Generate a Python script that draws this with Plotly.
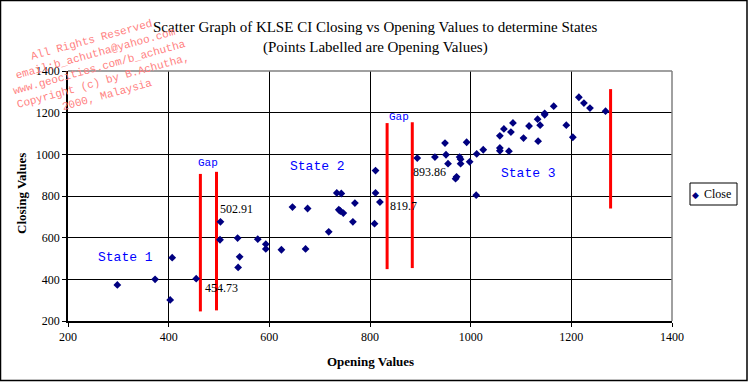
import plotly.graph_objects as go

# ---- data ----
open_vals = [298, 373, 407, 403, 454.73, 502.91, 502, 537, 541, 538, 577, 593, 593, 624, 672,
             646, 676, 718, 734, 743, 738, 741, 747, 766, 770, 809, 811, 811, 819.7,
             893.86, 929, 949, 951, 955, 978, 980, 980, 972, 970, 992, 998, 1012, 1025, 1011,
             1058, 1066, 1058, 1058, 1076, 1080, 1084, 1105, 1116, 1134, 1133, 1138, 1147, 1147,
             1165, 1190, 1203, 1215, 1225, 1237, 1268]
close_vals = [373, 400, 504, 301, 403, 676, 590, 598, 508, 457, 593, 569, 546, 542, 546,
              747, 740, 628, 815, 812, 734, 728, 718, 676, 766, 667, 922, 815, 771,
              982, 987, 1054, 998, 955, 987, 977, 955, 892, 883, 1058, 964, 1002, 1022, 804,
              1089, 1122, 1031, 1017, 1015, 1107, 1151, 1078, 1136, 1063, 1169, 1140, 1197, 1190,
              1231, 1140, 1082, 1274, 1246, 1222, 1207]

# labelled points (opening values)
label_open = [454.73, 502.91, 819.7, 893.86]
label_close = [403, 676, 771, 982]
label_text = ["454.73", "502.91", "819.7", "893.86"]

# red state-boundary lines: x, y_top, y_bottom
gap_x = [463, 495, 834, 884, 1278]
gap_top = [906, 916, 1150, 1154, 1313]
gap_bottom = [246, 251, 449, 454, 740]

# region texts
region_text = ["Gap", "Gap", "State 1", "State 2", "State 3"]
region_x = [479, 858, 314, 695, 1115]
region_y = [959, 1180, 504, 940, 906]

x_ticks = [200, 400, 600, 800, 1000, 1200, 1400]
y_ticks = [200, 400, 600, 800, 1000, 1200, 1400]

fig = go.Figure()

for gx, gt, gb in zip(gap_x, gap_top, gap_bottom):
    fig.add_trace(go.Scatter(x=[gx, gx], y=[gb, gt], mode="lines",
                             line=dict(color="#ff0000", width=3),
                             showlegend=False, hoverinfo="skip"))

fig.add_trace(go.Scatter(x=open_vals, y=close_vals, mode="markers", name="Close",
                         marker=dict(symbol="diamond", size=6, color="#000080"),
                         showlegend=False))

serif = "Liberation Serif, Times New Roman, serif"
mono = "Liberation Mono, Courier New, monospace"
C = dict(xanchor="center", yanchor="middle", showarrow=False)

ann = []
shifts = [(25, -9.5), (16, 13), (24, -4), (12.5, -13.7)]
for lx, ly, lt, (sx, sy) in zip(label_open, label_close, label_text, shifts):
    ann.append(dict(x=lx, y=ly, text=lt, xshift=sx, yshift=sy, **C,
                    font=dict(family=serif, size=12, color="black")))

for t, rx, ry in zip(region_text, region_x, region_y):
    ann.append(dict(x=rx, y=ry, text=t, **C,
                    font=dict(family=mono, size=11 if t == "Gap" else 13, color="#0000ff")))

# title
ann.append(dict(xref="paper", yref="paper", x=(375 - 68) / 604, y=(321 - 27) / 250, **C,
                text="Scatter Graph of KLSE CI Closing vs Opening Values to determine States",
                font=dict(family=serif, size=15, color="black")))
ann.append(dict(xref="paper", yref="paper", x=(375 - 68) / 604, y=(321 - 48) / 250, **C,
                text="(Points Labelled are Opening Values)",
                font=dict(family=serif, size=15, color="black")))

# axis titles
ann.append(dict(xref="paper", yref="paper", x=0.5, y=(321 - 361) / 250, **C,
                text="<b>Opening Values</b>",
                font=dict(family=serif, size=13, color="black")))
ann.append(dict(xref="paper", yref="paper", x=(21 - 68) / 604, y=(321 - 194) / 250, textangle=-90, **C,
                text="<b>Closing Values</b>",
                font=dict(family=serif, size=13, color="black")))

# legend (manual)
ann.append(dict(xref="paper", yref="paper", x=(717 - 68) / 604, y=(321 - 194) / 250, **C,
                text="Close",
                font=dict(family=serif, size=12, color="black")))
ann.append(dict(xref="paper", yref="paper", x=(695 - 68) / 604, y=(321 - 195) / 250, **C,
                text="◆",
                font=dict(family="DejaVu Sans", size=9, color="#000080")))

# watermark
ann.append(dict(xref="paper", yref="paper", x=(99 - 68) / 604, y=(321 - 67) / 250, **C,
                text="All Rights Reserved<br>email:b_achutha@yahoo.com<br>www.geocities.com/b_achutha"
                     "<br>Copyright (c) by B.Achutha,<br>2000, Malaysia",
                textangle=-15.5, align="center",
                font=dict(family=mono, size=11, color="#ff7f7f")))

shapes = [
    # plot area top/right border (gray)
    dict(type="line", xref="paper", yref="paper", x0=0, x1=1, y0=1, y1=1,
         line=dict(color="#808080", width=1.5), layer="above"),
    dict(type="line", xref="paper", yref="paper", x0=1, x1=1, y0=0, y1=1,
         line=dict(color="#808080", width=1.5), layer="above"),
    # legend box
    dict(type="rect", xref="paper", yref="paper",
         x0=(690 - 68) / 604, x1=(737 - 68) / 604, y0=(321 - 205) / 250, y1=(321 - 183) / 250,
         line=dict(color="black", width=1), fillcolor="white", layer="below"),
    # outer chart border
    dict(type="rect", xref="paper", yref="paper",
         x0=(0.5 - 68) / 604, x1=(747 - 68) / 604, y0=(321 - 380.5) / 250, y1=(321 - 0.5) / 250,
         line=dict(color="black", width=1.5), fillcolor="rgba(0,0,0,0)", layer="below"),
]

fig.update_layout(
    width=748, height=382,
    margin=dict(l=68, r=76, t=71, b=61),
    paper_bgcolor="white", plot_bgcolor="white",
    showlegend=False,
    annotations=ann, shapes=shapes,
    font=dict(family=serif, size=12, color="black"),
    xaxis=dict(range=[200, 1400], tickvals=x_ticks, ticktext=[str(v) for v in x_ticks],
               showgrid=True, gridcolor="black", gridwidth=1,
               showline=True, linecolor="black", linewidth=1.5,
               ticks="outside", ticklen=4, tickcolor="black", zeroline=False,
               tickfont=dict(family=serif, size=12, color="black")),
    yaxis=dict(range=[200, 1400], tickvals=y_ticks, ticktext=[str(v) for v in y_ticks],
               showgrid=True, gridcolor="black", gridwidth=1,
               showline=True, linecolor="black", linewidth=1.5,
               ticks="outside", ticklen=4, tickcolor="black", zeroline=False,
               tickfont=dict(family=serif, size=12, color="black")),
)

fig.write_html("out.html", config={"displayModeBar": False},
               post_script="document.body.style.margin='0';")
